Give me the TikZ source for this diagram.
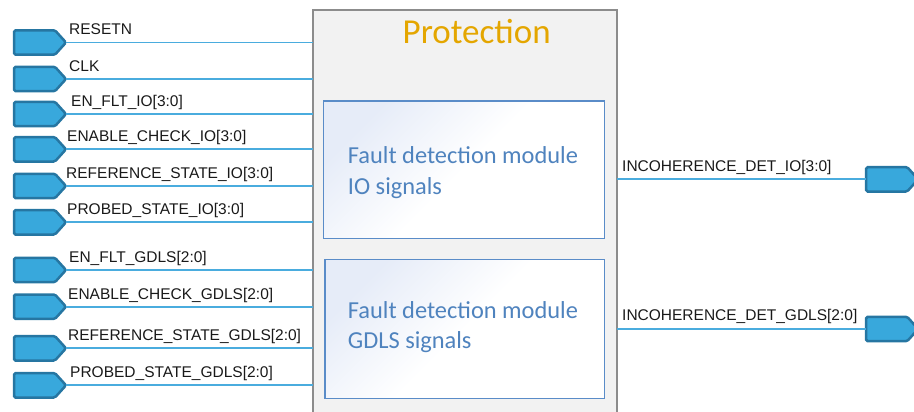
\documentclass[tikz,border=0pt]{standalone}
\usepackage{fontspec}
\setmainfont{Liberation Sans}
\newfontfamily\calib{Carlito}
\definecolor{portfill}{RGB}{56,168,220}
\definecolor{portdraw}{RGB}{38,118,162}
\definecolor{wire}{RGB}{74,172,222}
\definecolor{protfill}{RGB}{242,242,242}
\definecolor{protdraw}{RGB}{140,140,140}
\definecolor{titlecol}{RGB}{228,166,0}
\definecolor{modblue}{RGB}{90,140,200}
\definecolor{modtext}{RGB}{79,131,190}
\definecolor{modfill}{RGB}{230,236,248}
\definecolor{sigtext}{RGB}{25,25,25}
\begin{document}
\begin{tikzpicture}[x=1pt,y=-1pt,
  portsty/.style={draw=portdraw, fill=portfill, line width=2.5pt, rounded corners=1.5pt},
  port/.pic={
    \draw[portsty] (-26,-12.2) -- (15,-12.2) -- (26,0) -- (15,12.2) -- (-26,12.2) -- cycle;
    \coordinate (-tip) at (26,0);
    \coordinate (-tail) at (-26,0);
  },
  wirel/.style={draw=wire, line width=1.8pt},
  sig/.style={anchor=base west, inner sep=0, text=sigtext,
    font=\fontsize{15.5}{18}\selectfont},
  modbox/.style={draw=modblue, line width=1.6pt, left color=modfill, right color=white,
    middle color=white, shading angle=45, anchor=north west, inner sep=0, outer sep=0},
  modt/.style={anchor=base west, inner sep=0, text=modtext,
    font=\calib\fontsize{24.4}{30}\selectfont},
]
\useasboundingbox (0,0) rectangle (914,412);
\clip (0,0) rectangle (914,412);
% main block
\node[draw=protdraw, fill=protfill, line width=1.6pt, anchor=north west,
  minimum width=304, minimum height=420, inner sep=0, outer sep=0] (prot) at (313,10) {};
\node[anchor=base, inner sep=0, text=titlecol, font=\calib\fontsize{35}{40}\selectfont]
  (title) at (476.7,44) {Protection};
% modules
\node[modbox, minimum width=281, minimum height=137.3] (m1) at (323.3,101) {};
\node[modt] (m1a) at (347.7,163.3) {Fault detection module};
\node[modt] (m1b) at (347.7,194) {IO signals};
\node[modbox, minimum width=279.3, minimum height=139] (m2) at (325,259.3) {};
\node[modt] (m2a) at (347.7,318.3) {Fault detection module};
\node[modt] (m2b) at (347.7,348.3) {GDLS signals};
% input ports
\foreach \n/\y/\lx/\txt in {
  p1/42.5/69/RESETN,
  p2/79/69/CLK,
  p3/114/71/EN\_FLT\_IO[3:0],
  p4/149.3/67/ENABLE\_CHECK\_IO[3:0],
  p5/186/66/REFERENCE\_STATE\_IO[3:0],
  p6/222.3/67/PROBED\_STATE\_IO[3:0],
  p7/270/69/EN\_FLT\_GDLS[2:0],
  p8/306.7/68/ENABLE\_CHECK\_GDLS[2:0],
  p9/348.3/68/REFERENCE\_STATE\_GDLS[2:0],
  p10/385.3/70/PROBED\_STATE\_GDLS[2:0]}{
  \pic (\n) at (40,\y) {port};
  \node[sig] (\n l) at (\lx,\y-7.5) {\txt};
  \draw[wirel] (\n-tip) -- (\n-tip -| prot.west);
}
% output ports
\pic (o1) at (892.2,179.3) {port};
\node[sig] (o1l) at (622,171.7) {INCOHERENCE\_DET\_IO[3:0]};
\draw[wirel] (o1-tail) -- (o1-tail -| prot.east);
\pic (o2) at (892.2,329) {port};
\node[sig] (o2l) at (622,320.5) {INCOHERENCE\_DET\_GDLS[2:0]};
\draw[wirel] (o2-tail) -- (o2-tail -| prot.east);
\end{tikzpicture}
\end{document}
